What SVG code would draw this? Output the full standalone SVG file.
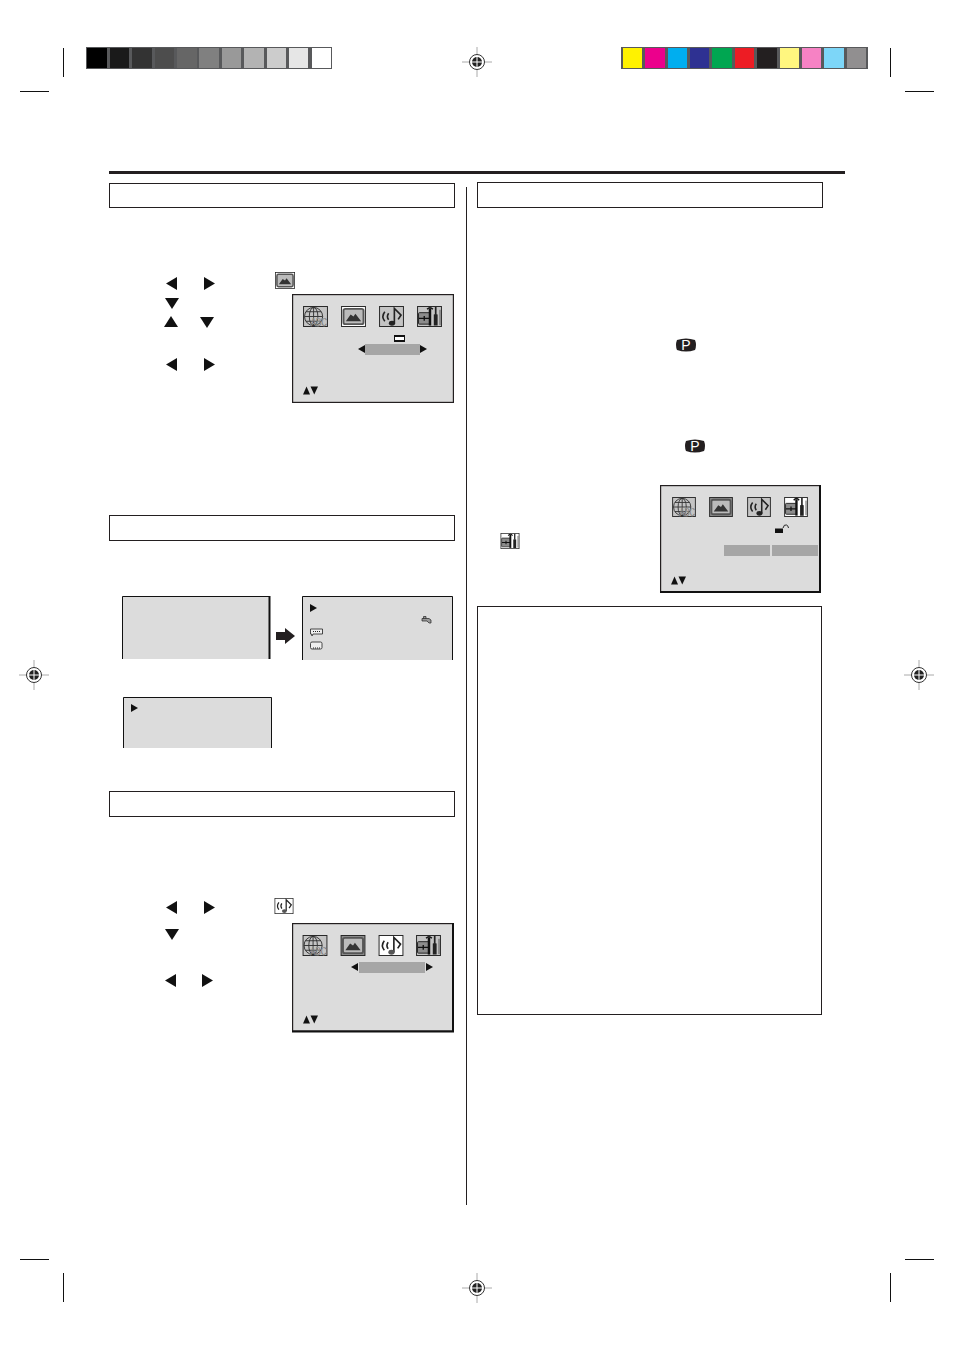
<svg xmlns="http://www.w3.org/2000/svg" xmlns:xlink="http://www.w3.org/1999/xlink" width="954" height="1351" viewBox="0 0 954 1351">
<style>
.k{fill:#111}
.box{fill:#fff;stroke:#231f20;stroke-width:1}
.menu{fill:#dcdcdc;stroke:#231f20;stroke-width:1.2}
.heavy{fill:none;stroke:#111;stroke-width:2}
.panel{fill:#dcdcdc}
.edge{fill:none;stroke:#111;stroke-width:1}
.crop{stroke:#111;stroke-width:1;fill:none}
.bar{fill:#a6a6a6}
.ic{fill:#c4c4c4;stroke:#222;stroke-width:1}
.sel{fill:#fff;stroke:#222;stroke-width:1}
.ln{fill:none;stroke:#333;stroke-width:1}
.nt{fill:none;stroke:#222;stroke-width:1.7}
.lb{fill:none;stroke:#111;stroke-width:1.6}
</style>
<defs>
<g id="reg">
<path d="M-15 0H15M0-15V15" stroke="#aaa" stroke-width="1"/>
<circle r="7.500" fill="#fff" stroke="#333" stroke-width="1"/>
<circle r="5" fill="#222"/>
<path d="M-6 0H6M0-6V6" stroke="#fff" stroke-width="1"/>
</g>
<symbol id="globe" viewBox="0 0 26 22">
<rect x=".5" y=".5" width="25" height="21" class="ic"/>
<circle cx="11" cy="11" r="9.500" class="ln"/><ellipse cx="11" cy="11" rx="4.500" ry="9.500" class="ln"/>
<path d="M1.500 11H20.500M3 6H19M3 16H19M11 1.500V20.500" class="ln"/>
<text x="8" y="20.500" font-family="'Liberation Sans',sans-serif" font-size="11" fill="#555" stroke="#c4c4c4" stroke-width=".3" textLength="17" lengthAdjust="spacingAndGlyphs">ABC</text>
</symbol>
<symbol id="pic" viewBox="0 0 26 22">
<rect x=".5" y=".5" width="25" height="21" fill="#fff" stroke="#222"/>
<rect x="2.500" y="3" width="21" height="16" rx="2" fill="#bbb" stroke="#555" stroke-width="2"/>
<path d="M5 16L10 9L13 11L15 8L21 16Z" fill="#333"/>
</symbol>
<symbol id="pic0" viewBox="0 0 26 22">
<rect x=".5" y=".5" width="25" height="21" fill="#8a8a8a" stroke="#222"/>
<rect x="2.500" y="3" width="21" height="16" rx="2" fill="#bbb" stroke="#555" stroke-width="2"/>
<path d="M5 16L10 9L13 11L15 8L21 16Z" fill="#333"/>
</symbol>
<symbol id="note" viewBox="0 0 26 22">
<rect x=".5" y=".5" width="25" height="21" class="ic"/>
<path d="M6 6Q2 11 6 16M10 7.500Q7.500 11 10 14.500" class="nt"/>
<path d="M16 18V2.500L23 9.500L20 14" class="nt"/>
<ellipse cx="13.500" cy="18" rx="3.300" ry="2.600" fill="#222"/>
</symbol>
<symbol id="note1" viewBox="0 0 26 22">
<rect x=".5" y=".5" width="25" height="21" class="sel"/>
<path d="M6 6Q2 11 6 16M10 7.500Q7.500 11 10 14.500" class="nt"/>
<path d="M16 18V2.500L23 9.500L20 14" class="nt"/>
<ellipse cx="13.500" cy="18" rx="3.300" ry="2.600" fill="#555"/>
</symbol>
<symbol id="tool" viewBox="0 0 26 22">
<rect x=".5" y=".5" width="25" height="21" class="ic"/>
<rect x="1.500" y="7" width="12" height="12" rx="1" fill="#8c8c8c" stroke="#222"/>
<path d="M2 13H13M7.500 10.500V15.500" stroke="#111" stroke-width="1.400"/>
<path d="M13.500 2.500V20.500" stroke="#111" stroke-width="2.600"/>
<path d="M10.500 3.500Q13.500 0 16.500 3.500" class="lb"/>
<path d="M17.500 9Q19.500 8 21.500 9V20.500H17.500Z" fill="#222"/><path d="M19.500 1V9" stroke="#222" stroke-width="1.800"/>
<path d="M24 4V20" stroke="#555" stroke-width="1"/>
</symbol>
<symbol id="tool1" viewBox="0 0 26 22">
<rect x=".5" y=".5" width="25" height="21" fill="#fff" stroke="#222"/>
<rect x="1.500" y="7" width="12" height="12" rx="1" fill="#8c8c8c" stroke="#222"/>
<path d="M2 13H13M7.500 10.500V15.500" stroke="#111" stroke-width="1.400"/>
<path d="M13.500 2.500V20.500" stroke="#111" stroke-width="2.600"/>
<path d="M10.500 3.500Q13.500 0 16.500 3.500" class="lb"/>
<path d="M17.500 9Q19.500 8 21.500 9V20.500H17.500Z" fill="#222"/><path d="M19.500 1V9" stroke="#222" stroke-width="1.800"/>
<path d="M24 4V20" stroke="#555" stroke-width="1"/>
</symbol>
<path id="L" d="M11 0V13L0 6.500Z"/>
<path id="R" d="M0 0V13L11 6.500Z"/>
<path id="D" d="M0 0H14L7 11Z"/>
<path id="U" d="M7 0L14 11H0Z"/>
<g id="updown" class="k"><path d="M0 8L3.500 0L7 8Z"/><path d="M7.500 0H15L11.250 8Z"/></g>
<g id="pbadge">
<path d="M1 2Q10 -1 19 2Q21 7 19 12Q10 15 1 12Q-1 7 1 2Z" fill="#231f20"/>
<text x="10" y="12" text-anchor="middle" font-family="'Liberation Sans',sans-serif" font-size="14" fill="#fff">P</text>
</g>
</defs>

<g id="print-marks">
<rect x="86" y="47" width="246" height="22" fill="#58595b"/>
<g id="gray-bar">
<rect x="87" y="48" width="20" height="20" fill="#000"/>
<rect x="110" y="48" width="19" height="20" fill="#1a1a1a"/>
<rect x="132" y="48" width="20" height="20" fill="#333"/>
<rect x="155" y="48" width="19" height="20" fill="#4d4d4d"/>
<rect x="177" y="48" width="20" height="20" fill="#666"/>
<rect x="199" y="48" width="20" height="20" fill="#808080"/>
<rect x="222" y="48" width="19" height="20" fill="#999"/>
<rect x="244" y="48" width="20" height="20" fill="#b3b3b3"/>
<rect x="267" y="48" width="19" height="20" fill="#ccc"/>
<rect x="289" y="48" width="19" height="20" fill="#e6e6e6"/>
<rect x="312" y="48" width="19" height="20" fill="#fff"/>
</g>
<rect x="621" y="47" width="247" height="22" fill="#58595b"/>
<g id="colour-bar">
<rect x="623" y="48" width="19" height="20" fill="#fff200"/>
<rect x="645" y="48" width="20" height="20" fill="#ec008c"/>
<rect x="668" y="48" width="19" height="20" fill="#00aeef"/>
<rect x="690" y="48" width="19" height="20" fill="#2e3192"/>
<rect x="712" y="48" width="20" height="20" fill="#00a651"/>
<rect x="735" y="48" width="19" height="20" fill="#ed1c24"/>
<rect x="757" y="48" width="20" height="20" fill="#231f20"/>
<rect x="780" y="48" width="19" height="20" fill="#fff67f"/>
<rect x="802" y="48" width="19" height="20" fill="#f682c4"/>
<rect x="824" y="48" width="20" height="20" fill="#7dd6f8"/>
<rect x="847" y="48" width="19" height="20" fill="#918f90"/>
</g>
<path class="crop" d="M63.500 48V77M20 91.500H49M890.500 48V77M905 91.500H934M20 1259.500H49M63.500 1273V1302M905 1259.500H934M890.500 1273V1302"/>
<use href="#reg" x="477" y="62"/>
<use href="#reg" x="34" y="675"/>
<use href="#reg" x="919" y="675"/>
<use href="#reg" x="477" y="1288"/>
</g>

<g id="page-frame">
<rect x="109" y="171" width="736" height="3" fill="#231f20"/>
<path d="M466.500 187V1205" stroke="#231f20" stroke-width="1"/>
</g>

<g id="heading-picture"><rect class="box" x="109.500" y="183.500" width="345" height="24"/></g>
<g id="heading-closed-caption"><rect class="box" x="109.500" y="515.500" width="345" height="25"/></g>
<g id="heading-audio"><rect class="box" x="109.500" y="791.500" width="345" height="25"/></g>
<g id="heading-lock"><rect class="box" x="477.500" y="182.500" width="345" height="25"/></g>
<g id="note-box"><rect class="box" x="477.500" y="606.500" width="344" height="408"/></g>

<g id="picture-steps" class="k">
<use href="#L" x="166" y="277"/><use href="#R" x="204" y="277"/>
<use href="#D" x="165" y="298"/>
<use href="#U" x="164" y="316"/><use href="#D" x="200" y="317"/>
<use href="#L" x="166" y="358"/><use href="#R" x="204" y="358"/>
<use href="#pic" x="275" y="272" width="20" height="17"/>
</g>

<g id="menu-picture">
<rect class="menu" x="292.600" y="294.600" width="160.800" height="107.800"/>
<use href="#globe" x="303" y="306" width="25" height="21"/>
<use href="#pic" x="341" y="306" width="25" height="21"/>
<use href="#note" x="379" y="306" width="25" height="21"/>
<use href="#tool" x="417" y="306" width="25" height="21"/>
<rect x="394" y="335" width="11" height="7" fill="#111"/><rect x="395" y="337" width="9" height="3" fill="#fff"/>
<rect class="bar" x="365" y="344" width="55" height="11"/>
<path class="k" d="M365 345V353L358 349ZM420 345V353L427 349Z"/>
<use href="#updown" x="303" y="386.500"/>
</g>

<g id="panel-cc-1">
<rect class="panel" x="122" y="596" width="148" height="63"/>
<path class="edge" d="M122.500 659V596.500H269"/><path d="M269.500 596V659" class="heavy"/>
</g>
<g id="cc-arrow"><path fill="#231f20" d="M276 632H285V628L295 636L285 644V640H276Z"/></g>
<g id="panel-cc-2">
<rect class="panel" x="302" y="596" width="151" height="64"/>
<path class="edge" d="M302.500 660V596.500H452.500V660"/>
<path class="k" d="M310 604V612L317 608Z"/>
<path d="M422 618.500H429L431 620V623H429L427 621H422ZM423.500 618.500V616.500H426V618.500" fill="#999" stroke="#222" stroke-width=".7"/>
<path d="M310.500 629H322.500V634H313L312 636L311.500 634H310.500Z" fill="#eee" stroke="#333" stroke-width=".9"/>
<path d="M313 631.500H321" stroke="#222" stroke-dasharray="1 1"/>
<rect x="310.500" y="642" width="11.500" height="7" rx="1.500" fill="#eee" stroke="#333" stroke-width=".9"/>
<path d="M313 648H320" stroke="#222" stroke-dasharray="1 1"/>
</g>
<g id="panel-cc-3">
<rect class="panel" x="123" y="697" width="149" height="51"/>
<path class="edge" d="M123.500 748V697.500H271.500V748"/>
<path class="k" d="M131 704V712L138 708Z"/>
</g>

<g id="audio-steps" class="k">
<use href="#L" x="166" y="901"/><use href="#R" x="204" y="901"/>
<use href="#D" x="165" y="929"/>
<use href="#L" x="165" y="974"/><use href="#R" x="202" y="974"/>
<use href="#note1" x="274" y="898" width="20" height="16"/>
</g>

<g id="menu-audio">
<rect class="menu" x="292.600" y="923.600" width="160.400" height="107.500"/>
<path class="heavy" d="M453 923V1031.500H292"/>
<use href="#globe" x="302" y="935" width="26" height="21"/>
<use href="#pic0" x="340" y="935" width="26" height="21"/>
<use href="#note1" x="378" y="935" width="26" height="21"/>
<use href="#tool" x="416" y="935" width="25" height="21"/>
<rect class="bar" x="359" y="962" width="66" height="11"/>
<path class="k" d="M358 963V971L351 967ZM426 963V971L433 967Z"/>
<use href="#updown" x="303" y="1015.500"/>
</g>

<g id="lock-steps">
<use href="#pbadge" x="676" y="338"/>
<use href="#pbadge" x="685" y="439"/>
<use href="#tool1" x="500" y="533" width="20" height="16"/>
</g>

<g id="menu-lock">
<rect class="menu" x="660.600" y="485.600" width="159.800" height="106.800"/>
<path class="heavy" d="M820 485V592H660"/>
<use href="#globe" x="672" y="497" width="24" height="20"/>
<use href="#pic0" x="709" y="497" width="24" height="20"/>
<use href="#note" x="747" y="497" width="24" height="20"/>
<use href="#tool1" x="784" y="497" width="24" height="20"/>
<path d="M775 528.500H783V533H775Z" fill="#111"/><path d="M783 528Q784 524 786.500 525Q788.500 526 788.500 528" fill="none" stroke="#111" stroke-width=".9"/>
<rect class="bar" x="724" y="545" width="46" height="11"/>
<rect class="bar" x="772" y="545" width="46" height="11"/>
<use href="#updown" x="671" y="576.500"/>
</g>
</svg>
